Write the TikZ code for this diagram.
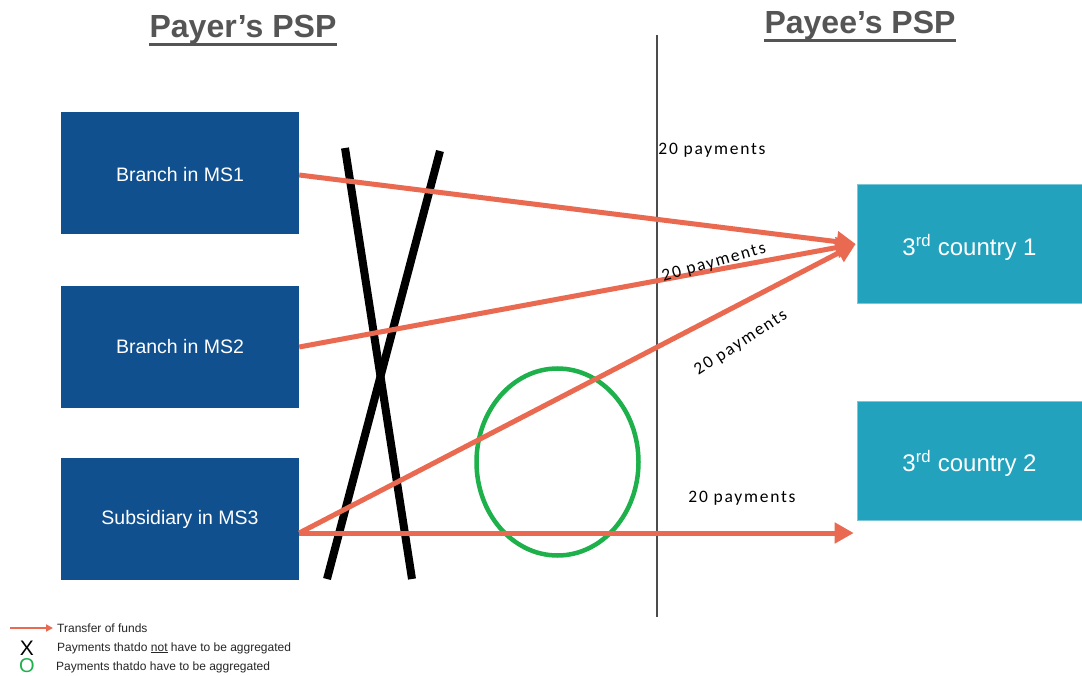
\documentclass[tikz,border=0pt]{standalone}
\usepackage{fontspec}
\setmainfont{Liberation Sans}
\newfontfamily\calib[LetterSpace=10]{Carlito}
\usetikzlibrary{arrows.meta,shapes.geometric}
\definecolor{navy}{HTML}{11508F}
\definecolor{teal3}{HTML}{22A2BD}
\definecolor{orng}{HTML}{E96A50}
\definecolor{grn}{HTML}{1DB04B}
\definecolor{ttl}{HTML}{555555}
\newcommand{\lowertxt}[2]{\raisebox{-#1}[\height][\depth]{#2}}
\tikzset{
  psp/.style={fill=navy, draw=none, minimum width=238pt, minimum height=122pt, inner sep=0pt, text=white, font=\fontsize{19.5}{22}\selectfont},
  ctry/.style={fill=teal3, draw=teal3!60!white, line width=0.6pt, minimum width=225pt, minimum height=119pt, inner sep=0pt, text=white, font=\fontsize{24}{28}\selectfont},
  flow/.style={draw=orng, line width=5pt, -{Triangle[length=19pt,width=20pt]}},
  cross/.style={draw=black, line width=8pt},
  lbl/.style={font=\calib\fontsize{17.5}{20}\selectfont, inner sep=0pt},
  title/.style={font=\bfseries\fontsize{32}{36}\selectfont, text=ttl, inner sep=0pt, anchor=base},
  legend/.style={font=\fontsize{12}{13}\selectfont, text=black!85, inner sep=0pt, anchor=west}
}
\begin{document}
\begin{tikzpicture}[x=1pt,y=-1pt]
\useasboundingbox[fill=white] (0,0) rectangle (1082,676);
% titles
\node[title] (t1) at (243,38) {Payer’s PSP};
\node[title] (t2) at (860,34) {Payee’s PSP};
\draw[ttl, line width=3pt] ([yshift=-7pt]t1.base west) -- ([yshift=-7pt]t1.base east);
\draw[ttl, line width=3pt] ([yshift=-7pt]t2.base west) -- ([yshift=-7pt]t2.base east);
% divider
\coordinate (dtop) at (657,35);
\coordinate (dbot) at (657,617);
\draw[black!70, line width=1.5pt] (dtop) -- (dbot);
% boxes
\node[psp] (ms1) at (180,173) {\lowertxt{2pt}{Branch in MS1}};
\node[psp] (ms2) at (180,347) {Branch in MS2};
\node[psp] (ms3) at (180,519) {Subsidiary in MS3};
\node[ctry] (c1) at (969.5,244) {\lowertxt{3pt}{3\textsuperscript{rd} country 1}};
\node[ctry] (c2) at (969.5,461) {\lowertxt{2pt}{3\textsuperscript{rd} country 2}};
% cross
\coordinate (xa1) at (345,148);
\coordinate (xa2) at (412,579);
\coordinate (xb1) at (440,151);
\coordinate (xb2) at (327,579);
\draw[cross] (xa1) -- (xa2);
\draw[cross] (xb1) -- (xb2);
% green ellipse
\node[draw=grn, line width=4.5pt, ellipse, minimum width=162pt, minimum height=187pt, inner sep=0pt] (ov) at (557.5,462) {};
% flows
\coordinate (tip1) at ([xshift=-1pt]c1.west);
\coordinate (s1) at ([yshift=-2pt]ms1.east);
\coordinate (s3) at ([yshift=-14pt]ms3.east);
\coordinate (tip2) at ([xshift=-3pt]c2.west |- s3);
\draw[flow] (s1) -- (tip1);
\draw[flow] (ms2.east) -- (tip1);
\draw[flow] (s3) -- (tip1);
\draw[flow] (s3) -- (tip2);
% labels
\node[lbl] (l1) at (712,150) {20 payments};
\node[lbl, rotate=16] (l2) at (714,263) {20 payments};
\node[lbl, rotate=33] (l3) at (741,343) {20 payments};
\node[lbl] (l4) at (742,498) {20 payments};
% legend
\coordinate (la) at (10,628);
\coordinate (lb) at (53,628);
\draw[orng, line width=2pt, -{Triangle[length=7pt,width=7pt]}] (la) -- (lb);
\node[legend] (g1) at (57,628) {Transfer of funds};
\node[font=\fontsize{21}{22}\selectfont, inner sep=0pt] (gx) at (27,648) {X};
\node[legend] (g2) at (57,648) {Payments that\kern-3pt{} do \underline{not} have to be aggregated};
\node[font=\fontsize{20}{22}\selectfont, text=grn, inner sep=0pt] (go) at (27,666) {O};
\node[legend] (g3) at (56,667) {Payments that\kern-3pt{} do have to be aggregated};
\end{tikzpicture}
\end{document}
